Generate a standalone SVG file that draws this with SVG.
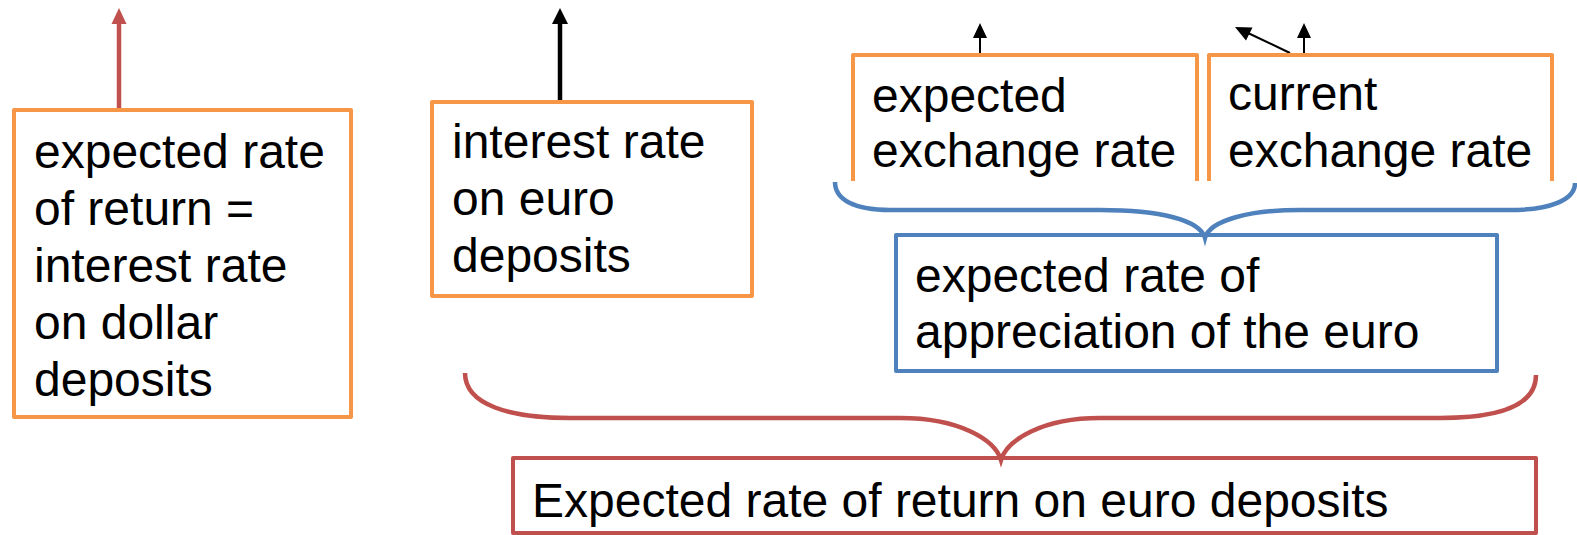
<svg xmlns="http://www.w3.org/2000/svg" width="1577" height="535" viewBox="0 0 1577 535">
<style>
.t{font-family:"Liberation Sans",Arial,sans-serif;font-size:48px;fill:#000}
.ob{fill:none;stroke:#F79646;stroke-width:4;stroke-linejoin:round}
.bb{fill:none;stroke:#4F81BD;stroke-width:4;stroke-linejoin:round}
.rb{fill:none;stroke:#C0504D;stroke-width:4;stroke-linejoin:round}
.br{fill:none;stroke-width:4.5;stroke-linecap:butt}
</style>
<rect width="1577" height="535" fill="#fff"/>
<g id="connectors">
  <line x1="119" y1="108" x2="119" y2="22" stroke="#C0504D" stroke-width="4.5"/>
  <polygon points="111.5,24 119,8 126.5,24" fill="#C0504D"/>
  <line x1="560" y1="100" x2="560" y2="22" stroke="#000" stroke-width="4.5"/>
  <polygon points="552,24 560,8 568,24" fill="#000"/>
  <line x1="980" y1="55" x2="980" y2="36" stroke="#000" stroke-width="2"/>
  <polygon points="973,38 980,23 987,38" fill="#000"/>
  <line x1="1304" y1="55" x2="1304" y2="36" stroke="#000" stroke-width="2"/>
  <polygon points="1297,38 1304,23 1311,38" fill="#000"/>
  <line x1="1290" y1="53" x2="1248" y2="33" stroke="#000" stroke-width="2"/>
  <polygon points="1235,27 1252.5,27.5 1246,40.5" fill="#000"/>
  <path class="br" stroke="#4F81BD" d="M835,182 C835,200 855,210 890,210 H1100 C1160,210 1200,220 1205,238 C1210,220 1250,210 1300,210 H1510 C1550,210 1575,200 1575,183"/>
  <path class="br" stroke="#C0504D" d="M465,373 C465,405 510,418 570,418 H900 C960,418 995,440 1001,460 C1007,440 1042,418 1100,418 H1440 C1500,418 1536,405 1536,375"/>
</g>
<g id="n1">
  <rect class="ob" x="14" y="110" width="337" height="307"/>
  <text class="t" x="34" y="168">expected rate</text>
  <text class="t" x="34" y="225">of return =</text>
  <text class="t" x="34" y="282">interest rate</text>
  <text class="t" x="34" y="339">on dollar</text>
  <text class="t" x="34" y="396">deposits</text>
</g>
<g id="n2">
  <rect class="ob" x="432" y="102" width="320" height="194"/>
  <text class="t" x="452" y="158">interest rate</text>
  <text class="t" x="452" y="215">on euro</text>
  <text class="t" x="452" y="272">deposits</text>
</g>
<g id="n3">
  <path class="ob" d="M853,181 V55 H1197 V181"/>
  <text class="t" x="872" y="112">expected</text>
  <text class="t" x="872" y="167">exchange rate</text>
</g>
<g id="n4">
  <path class="ob" d="M1209,181 V55 H1552 V181"/>
  <text class="t" x="1228" y="110">current</text>
  <text class="t" x="1228" y="167">exchange rate</text>
</g>
<g id="n5">
  <rect class="bb" x="896" y="235" width="601" height="136"/>
  <text class="t" x="915" y="292">expected rate of</text>
  <text class="t" x="915" y="348">appreciation of the euro</text>
</g>
<g id="n6">
  <rect class="rb" x="513" y="458" width="1023" height="75"/>
  <text class="t" x="532" y="517">Expected rate of return on euro deposits</text>
</g>
</svg>
